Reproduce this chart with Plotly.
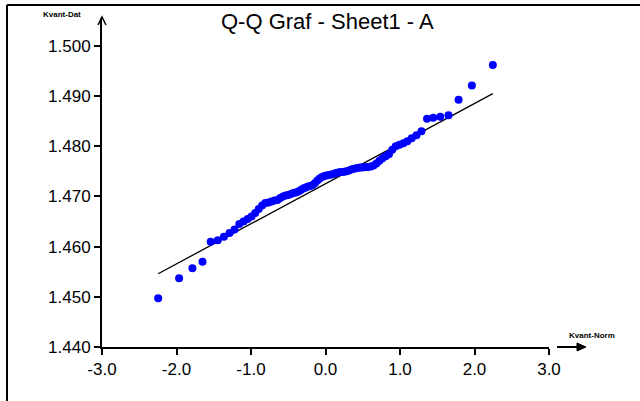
import plotly.graph_objects as go

# Normal scores (theoretical quantiles) and sorted sample values of column A
normal_scores = [
    -2.246, -1.965, -1.786, -1.651, -1.541, -1.446, -1.363, -1.288, -1.221, -1.157,
    -1.099, -1.045, -0.993, -0.943, -0.896, -0.851, -0.807, -0.765, -0.724, -0.684,
    -0.645, -0.608, -0.571, -0.535, -0.500, -0.465, -0.431, -0.397, -0.364, -0.331,
    -0.298, -0.266, -0.234, -0.202, -0.171, -0.140, -0.109, -0.078, -0.046, -0.015,
    0.015, 0.046, 0.078, 0.109, 0.140, 0.171, 0.202, 0.234, 0.266, 0.298,
    0.331, 0.364, 0.397, 0.431, 0.465, 0.500, 0.535, 0.571, 0.608, 0.645,
    0.684, 0.724, 0.765, 0.807, 0.851, 0.896, 0.943, 0.993, 1.045, 1.099,
    1.157, 1.221, 1.288, 1.363, 1.446, 1.541, 1.651, 1.786, 1.965, 2.246,
]
sample_values = [
    1.4497, 1.4537, 1.4557, 1.4570, 1.4610, 1.4613, 1.4620, 1.4627, 1.4634, 1.4645,
    1.4650, 1.4655, 1.4660, 1.4667, 1.4675, 1.4682, 1.4687, 1.4688, 1.4690, 1.4692,
    1.4693, 1.4697, 1.4700, 1.4702, 1.4703, 1.4705, 1.4707, 1.4708, 1.4710, 1.4713,
    1.4716, 1.4718, 1.4720, 1.4721, 1.4723, 1.4727, 1.4732, 1.4736, 1.4739, 1.4741,
    1.4742, 1.4743, 1.4744, 1.4745, 1.4747, 1.4748, 1.4749, 1.4749, 1.4750, 1.4751,
    1.4753, 1.4755, 1.4756, 1.4757, 1.4758, 1.4758, 1.4759, 1.4759, 1.4760, 1.4762,
    1.4766, 1.4771, 1.4776, 1.4780, 1.4784, 1.4793, 1.4800, 1.4803, 1.4806, 1.4810,
    1.4816, 1.4822, 1.4830, 1.4855, 1.4857, 1.4859, 1.4862, 1.4893, 1.4921, 1.4962,
]

# Reference line end points
ref_x = [-2.246, 2.246]
ref_y = [1.4546, 1.4905]

x_ticks = [-3.0, -2.0, -1.0, 0.0, 1.0, 2.0, 3.0]
x_tick_text = ["-3.0", "-2.0", "-1.0", "0.0", "1.0", "2.0", "3.0"]
y_ticks = [1.44, 1.45, 1.46, 1.47, 1.48, 1.49, 1.50]
y_tick_text = ["1.440", "1.450", "1.460", "1.470", "1.480", "1.490", "1.500"]

title_text = "Q-Q Graf - Sheet1 - A"
x_label = "Kvant-Norm"
y_label = "Kvant-Dat"

W, H = 640, 401
ML, MR, MT, MB = 102, 91, 18, 54
PW, PH = W - ML - MR, H - MT - MB


def px(x):
    return (x - ML) / PW


def py(y):
    return (H - MB - y) / PH


fig = go.Figure()
fig.add_trace(go.Scatter(
    x=ref_x, y=ref_y, mode="lines",
    line=dict(color="black", width=1.3),
    hoverinfo="skip", showlegend=False,
))
fig.add_trace(go.Scatter(
    x=normal_scores, y=sample_values, mode="markers",
    marker=dict(color="#0000FF", size=8, line=dict(width=0)),
    showlegend=False,
))

axis_font = dict(family="Liberation Sans, Arial, sans-serif", size=17, color="black")

fig.update_xaxes(
    range=[-3.0, 3.0], tickvals=x_ticks, ticktext=x_tick_text,
    showgrid=False, zeroline=False, showline=True, linecolor="black", linewidth=2,
    ticks="outside", ticklen=6, tickwidth=1.5, tickcolor="black",
    tickfont=axis_font,
)
fig.update_yaxes(
    range=[1.44, 1.44 + PH / 5017.0], tickvals=y_ticks, ticktext=y_tick_text,
    showgrid=False, zeroline=False, showline=True, linecolor="black", linewidth=2,
    ticks="outside", ticklen=6, tickwidth=1.5, tickcolor="black",
    tickfont=axis_font,
)

shapes = [
    # outer frame (top and left edges)
    dict(type="line", xref="paper", yref="paper", x0=px(7), y0=py(5), x1=px(640), y1=py(5),
         line=dict(color="black", width=2)),
    dict(type="line", xref="paper", yref="paper", x0=px(7), y0=py(5), x1=px(7), y1=py(401),
         line=dict(color="black", width=2)),
    # open arrowhead on the y axis
    dict(type="path", xref="paper", yref="paper",
         path=f"M {px(98)} {py(25)} L {px(102)} {py(17)} L {px(106)} {py(25)}",
         line=dict(color="black", width=1.5)),
    # arrow after the x axis
    dict(type="line", xref="paper", yref="paper", x0=px(557), y0=py(347), x1=px(580), y1=py(347),
         line=dict(color="black", width=2)),
    dict(type="path", xref="paper", yref="paper",
         path=f"M {px(577)} {py(343)} L {px(586)} {py(347)} L {px(577)} {py(351)} Z",
         fillcolor="black", line=dict(color="black", width=1)),
]

small_font = dict(family="Liberation Sans Narrow, Liberation Sans, sans-serif", size=8, color="black")
annotations = [
    dict(text=title_text, xref="paper", yref="paper", x=px(327), y=py(21),
         xanchor="center", yanchor="middle", showarrow=False,
         font=dict(family="Liberation Sans, Arial, sans-serif", size=22, color="black")),
    dict(text=f"<b>{y_label}</b>", xref="paper", yref="paper", x=px(62), y=py(15),
         xanchor="center", yanchor="middle", showarrow=False, font=small_font),
    dict(text=f"<b>{x_label}</b>", xref="paper", yref="paper", x=px(592), y=py(335),
         xanchor="center", yanchor="middle", showarrow=False, font=small_font),
]

fig.update_layout(
    width=W, height=H,
    margin=dict(l=ML, r=MR, t=MT, b=MB, pad=0),
    paper_bgcolor="white", plot_bgcolor="white",
    shapes=shapes, annotations=annotations,
    showlegend=False,
)

fig.write_html("out.html")
